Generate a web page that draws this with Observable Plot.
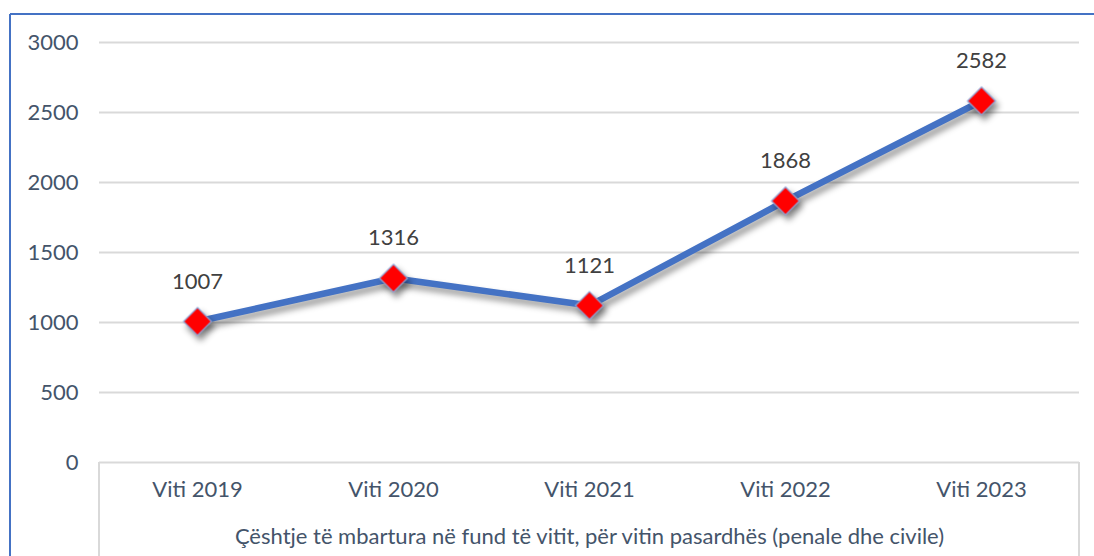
<!DOCTYPE html>
<html>
<head>
<meta charset="utf-8">
<script src="https://cdn.jsdelivr.net/npm/d3@7"></script>
<script src="https://cdn.jsdelivr.net/npm/@observablehq/plot@0.6"></script>
<style>
  html, body { margin: 0; padding: 0; background: #fff; }
  #chart { width: 1094px; height: 556px; position: relative; overflow: hidden; }
  #chart svg g[aria-label="line"] { filter: drop-shadow(3px 5px 3px rgba(0,0,0,0.4)); }
  #chart svg g[aria-label="dot"] { filter: drop-shadow(3px 5px 3px rgba(0,0,0,0.45)); }
</style>
</head>
<body>
<div id="chart"></div>
<script>
const categories = ["Viti 2019", "Viti 2020", "Viti 2021", "Viti 2022", "Viti 2023"];
const values = [1007, 1316, 1121, 1868, 2582];
const yTicks = [0, 500, 1000, 1500, 2000, 2500, 3000];
const axisTitle = "Çështje të mbartura në fund të vitit, për vitin pasardhës (penale dhe civile)";

const data = categories.map((c, i) => ({cat: c, value: values[i]}));

const chart = Plot.plot({
  width: 1094,
  height: 556,
  marginLeft: 99,
  marginRight: 15,
  marginTop: 42,
  marginBottom: 94,
  style: {fontFamily: "Lato", fontSize: "22px", color: "#44546A", background: "#fff"},
  x: {type: "band", domain: categories, padding: 0, tickSize: 0, tickPadding: 19, label: axisTitle, labelAnchor: "center", labelOffset: 81},
  y: {domain: [0, 3000], ticks: yTicks, tickSize: 0, tickPadding: 21, tickFormat: d => String(d), label: null},
  marks: [
    Plot.ruleY(yTicks, {stroke: "#d9d9d9", strokeWidth: 2}),
    Plot.line(data, {x: "cat", y: "value", stroke: "#4472C4", strokeWidth: 6.5, curve: "linear"}),
    Plot.dot(data, {x: "cat", y: "value", symbol: "diamond2", r: 12.6, fill: "#ff0000", stroke: "#8faadc", strokeWidth: 1.2}),
    Plot.text(data, {x: "cat", y: "value", text: d => String(d.value), dy: -40, fill: "#404040", fontSize: 22})
  ]
});

document.getElementById("chart").appendChild(chart);

// Decorations derived from the scales: axis box and chart-area border
const svg = d3.select(chart);
const xr = chart.scale("x").range;
const y0 = chart.scale("y").apply(0);
svg.append("line").attr("x1", xr[0]).attr("x2", xr[0]).attr("y1", y0).attr("y2", 556)
  .attr("stroke", "#d9d9d9").attr("stroke-width", 2);
svg.append("line").attr("x1", xr[1]).attr("x2", xr[1]).attr("y1", y0).attr("y2", 556)
  .attr("stroke", "#d9d9d9").attr("stroke-width", 2);
svg.append("line").attr("x1", 10).attr("x2", 1094).attr("y1", 14).attr("y2", 14)
  .attr("stroke", "#4472C4").attr("stroke-width", 2);
svg.append("line").attr("x1", 10).attr("x2", 10).attr("y1", 14).attr("y2", 556)
  .attr("stroke", "#4472C4").attr("stroke-width", 2);
</script>
</body>
</html>
